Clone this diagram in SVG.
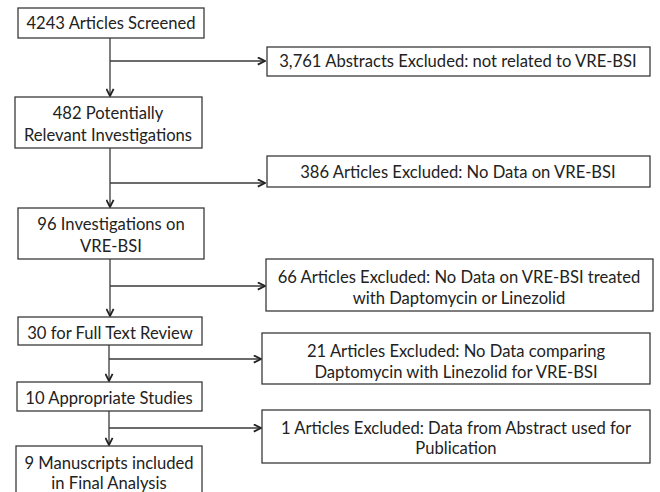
<svg xmlns="http://www.w3.org/2000/svg" width="660" height="492" viewBox="0 0 660 492">
<style>
.box{fill:#fff;stroke:#3a3a3a;stroke-width:1.3}
.t{font-family:Lato,"Open Sans","Liberation Sans",sans-serif;font-size:16.6px;fill:#222;text-anchor:middle}
.c{fill:none;stroke:#3a3a3a;stroke-width:1.3}
</style>
<defs>
<marker id="ah" viewBox="0 0 10 10" refX="9" refY="5" markerWidth="9" markerHeight="9" markerUnits="userSpaceOnUse" orient="auto">
<path d="M1,1 L9,5 L1,9" fill="none" stroke="#222" stroke-width="2"/>
</marker>
</defs>
<rect width="660" height="492" fill="#fff"/>
<g id="connectors">
<path class="c" d="M110,38 V96" marker-end="url(#ah)"/>
<path class="c" d="M110,61 H265" marker-end="url(#ah)"/>
<path class="c" d="M110,148 V207" marker-end="url(#ah)"/>
<path class="c" d="M110,183 H265" marker-end="url(#ah)"/>
<path class="c" d="M110,259 V316" marker-end="url(#ah)"/>
<path class="c" d="M110,286 H265" marker-end="url(#ah)"/>
<path class="c" d="M109,345 V381" marker-end="url(#ah)"/>
<path class="c" d="M109,359 H261" marker-end="url(#ah)"/>
<path class="c" d="M109,411 V445" marker-end="url(#ah)"/>
<path class="c" d="M109,428 H261" marker-end="url(#ah)"/>
</g>
<g id="n1"><rect class="box" x="18" y="8" width="186" height="30"/><text class="t" x="111" y="29">4243 Articles Screened</text></g>
<g id="n2"><rect class="box" x="267" y="47" width="383" height="29"/><text class="t" x="458" y="67">3,761 Abstracts Excluded: not related to VRE-BSI</text></g>
<g id="n3"><rect class="box" x="15" y="97" width="187" height="51"/><text class="t" x="108" y="119">482 Potentially</text><text class="t" x="108" y="141">Relevant Investigations</text></g>
<g id="n4"><rect class="box" x="267" y="156" width="383" height="31"/><text class="t" x="458" y="178">386 Articles Excluded: No Data on VRE-BSI</text></g>
<g id="n5"><rect class="box" x="18" y="208" width="186" height="51"/><text class="t" x="111" y="230">96 Investigations on</text><text class="t" x="111" y="252">VRE-BSI</text></g>
<g id="n6"><rect class="box" x="266" y="259" width="387" height="52"/><text class="t" x="459" y="283">66 Articles Excluded: No Data on VRE-BSI treated</text><text class="t" x="459" y="304">with Daptomycin or Linezolid</text></g>
<g id="n7"><rect class="box" x="18" y="317" width="184" height="28"/><text class="t" x="110" y="339">30 for Full Text Review</text></g>
<g id="n8"><rect class="box" x="262" y="333" width="388" height="51"/><text class="t" x="456" y="357">21 Articles Excluded: No Data comparing</text><text class="t" x="456" y="378">Daptomycin with Linezolid for VRE-BSI</text></g>
<g id="n9"><rect class="box" x="17" y="382" width="185" height="29"/><text class="t" x="109" y="404">10 Appropriate Studies</text></g>
<g id="n10"><rect class="box" x="262" y="410" width="388" height="53"/><text class="t" x="456" y="434">1 Articles Excluded: Data from Abstract used for</text><text class="t" x="456" y="454">Publication</text></g>
<g id="n11"><rect class="box" x="16" y="446" width="186" height="60"/><text class="t" x="109" y="469">9 Manuscripts included</text><text class="t" x="109" y="489">in Final Analysis</text></g>
</svg>
